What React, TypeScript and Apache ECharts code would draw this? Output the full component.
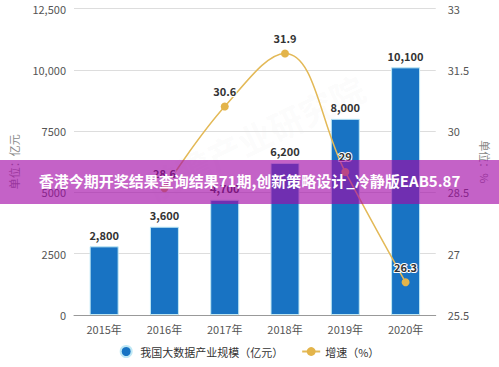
import React, { useEffect, useRef } from "react";
import * as echarts from "echarts";

const categories = ["2015年", "2016年", "2017年", "2018年", "2019年", "2020年"];
const scaleValues = [2800, 3600, 4700, 6200, 8000, 10100];
const growthValues: (number | string)[] = ["-", 28.6, 30.6, 31.9, 29, 26.3];
const barName = "我国大数据产业规模（亿元）";
const lineName = "增速（%）";
const bannerText = "香港今期开奖结果查询结果71期,创新策略设计_冷静版EAB5.87";

const fmtThousands = (v: number) => String(v).replace(/\B(?=(\d{3})+(?!\d))/g, ",");

export default function App() {
  const ref = useRef<HTMLDivElement>(null);
  useEffect(() => {
    if (!ref.current) return;
    const chart = echarts.init(ref.current, null, { renderer: "svg" });
    const font = "'Microsoft YaHei', 'Noto Sans CJK SC', sans-serif";
    chart.setOption({
      animation: false,
      textStyle: { fontFamily: font },
      grid: { left: 69, right: 55, top: 8.5, bottom: 52 },
      legend: {
        bottom: 4,
        left: "center",
        itemGap: 18,
        itemWidth: 18,
        itemHeight: 11,
        textStyle: { fontSize: 11, color: "#333", fontFamily: font },
        data: [
          { name: barName, icon: "circle" },
          { name: lineName },
        ],
      },
      xAxis: {
        type: "category",
        data: categories,
        axisLine: { lineStyle: { color: "#999" } },
        axisTick: { alignWithLabel: true, length: 4, lineStyle: { color: "#999" } },
        axisLabel: { fontSize: 11, color: "#555", margin: 8 },
      },
      yAxis: [
        {
          type: "value",
          min: 0,
          max: 12500,
          interval: 2500,
          name: "单位：亿元",
          nameLocation: "middle",
          nameGap: 55,
          nameRotate: 90,
          nameTextStyle: { fontSize: 11, color: "#888" },
          axisLine: { show: false },
          axisTick: { show: false },
          axisLabel: {
            fontSize: 11,
            color: "#555",
            margin: 8,
            formatter: (v: number) => (v >= 10000 ? fmtThousands(v) : String(v)),
          },
          splitLine: { lineStyle: { color: "#ddd" } },
        },
        {
          type: "value",
          min: 25.5,
          max: 33,
          interval: 1.5,
          name: "单位：%",
          nameLocation: "middle",
          nameGap: 44,
          nameRotate: -90,
          nameTextStyle: { fontSize: 11, color: "#888" },
          axisLine: { show: false },
          axisTick: { show: false },
          axisLabel: { fontSize: 11, color: "#555", margin: 12 },
          splitLine: { show: false },
        },
      ],
      series: [
        {
          name: barName,
          type: "bar",
          data: scaleValues,
          barWidth: 29,
          itemStyle: { color: "#1873c3", borderColor: "#bfe8f5", borderWidth: 1 },
          label: {
            show: true,
            position: "top",
            fontSize: 11,
            fontWeight: "bold",
            color: "#333",
            distance: 6,
            formatter: (p: any) => fmtThousands(p.value),
          },
        },
        {
          name: lineName,
          type: "line",
          yAxisIndex: 1,
          data: growthValues,
          smooth: 0.4,
          symbol: "circle",
          symbolSize: 8,
          lineStyle: { color: "#e3b957", width: 1.5 },
          itemStyle: { color: "#e3b44a" },
          label: {
            show: true,
            position: "top",
            fontSize: 11,
            fontWeight: "bold",
            color: "#333",
            textBorderColor: "#fff",
            textBorderWidth: 2,
            distance: 6,
          },
        },
      ],
      graphic: [
        {
          type: "text",
          left: 140,
          top: 70,
          rotation: Math.PI / 7,
          silent: true,
          z: -10,
          style: {
            text: "前瞻产业研究院",
            fontSize: 34,
            fontWeight: "bold",
            fill: "rgba(170,170,170,0.05)",
            fontFamily: font,
          },
        },
        {
          type: "rect",
          left: 0,
          top: 160,
          z: 100,
          shape: { width: 499, height: 44 },
          silent: true,
          style: { fill: "rgba(162,10,168,0.64)" },
        },
        {
          type: "text",
          left: "center",
          top: 173,
          z: 101,
          silent: true,
          style: {
            text: bannerText,
            fontSize: 15,
            fontWeight: "bold",
            fill: "#fff",
            fontFamily: font,
          },
        },
      ],
    });
    return () => chart.dispose();
  }, []);
  return (
    <div
      ref={ref}
      style={{ position: "absolute", left: 0, top: 0, width: 499, height: 367 }}
    />
  );
}
